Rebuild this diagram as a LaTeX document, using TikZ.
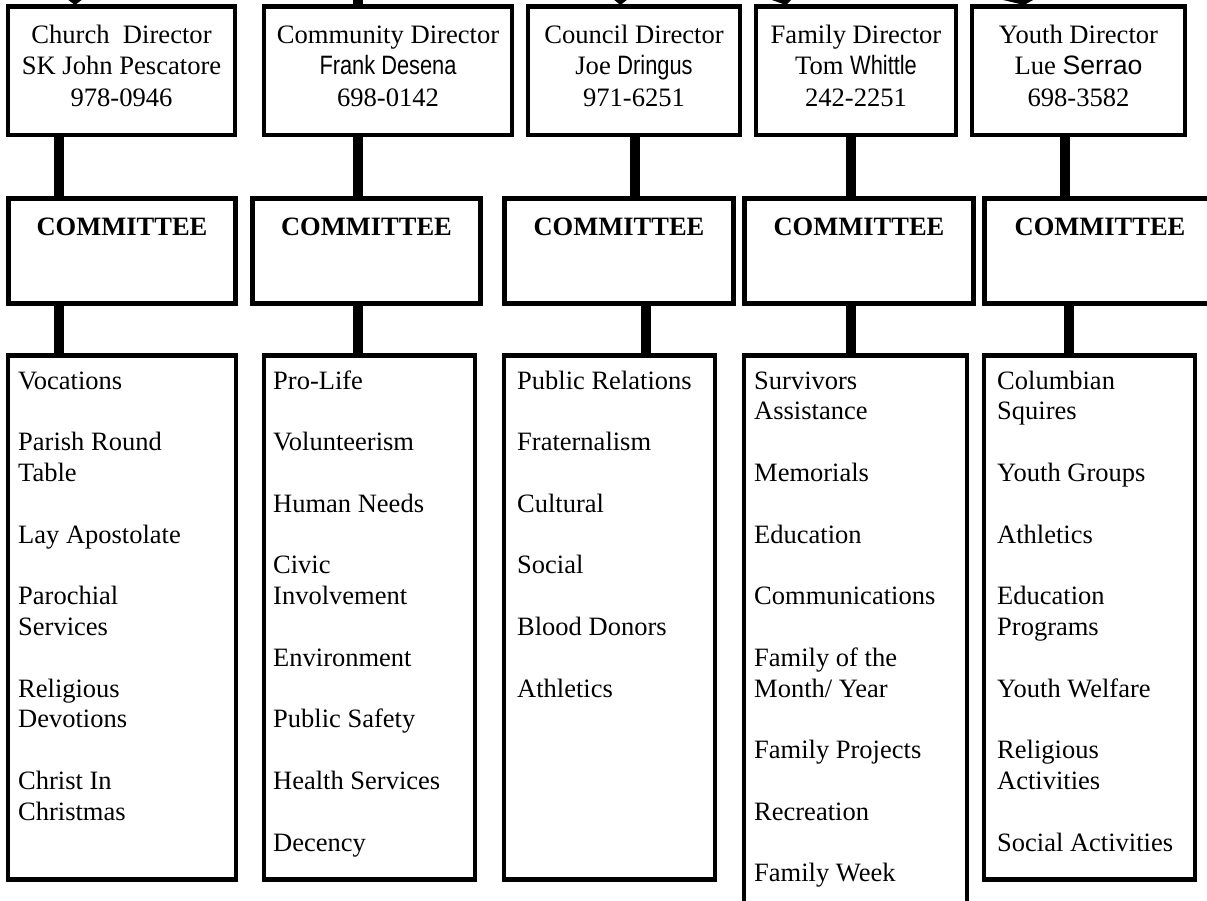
\documentclass[tikz,border=0pt]{standalone}
\usepackage{fontspec}
\setmainfont{Liberation Serif}
\newfontfamily\namesans[FakeStretch=0.82]{Liberation Sans}
\newfontfamily\namesansw{Liberation Sans}
\begin{document}
\begin{tikzpicture}[x=1pt,y=-1pt,
  bx/.style={draw, line width=4.5pt, inner sep=0pt, outer sep=0pt, anchor=north west, fill=white},
  cbx/.style={bx, line width=5pt},
  conn/.style={line width=10pt},
  dtext/.style={font=\fontsize{26.6}{31}\selectfont, anchor=base, inner sep=0pt},
  ctext/.style={font=\bfseries\fontsize{26.5}{31}\selectfont, anchor=base, inner sep=0pt},
  itext/.style={font=\fontsize{26.5}{31}\selectfont, anchor=base west, inner sep=0pt}]
\clip (0,0) rectangle (1207,901);
\fill[white] (0,0) rectangle (1207,901);

% director boxes
\node[bx, minimum width=227pt, minimum height=128.5pt] (d1) at (8,6.5) {};
\node[bx, minimum width=248pt, minimum height=128.5pt] (d2) at (264,6.5) {};
\node[bx, minimum width=212pt, minimum height=128.5pt] (d3) at (528,6.5) {};
\node[bx, minimum width=200pt, minimum height=128.5pt] (d4) at (756,6.5) {};
\node[bx, minimum width=213pt, minimum height=128.5pt] (d5) at (972,6.5) {};

% committee boxes
\node[cbx, minimum width=227pt, minimum height=105pt] (c1) at (8.5,198.5) {};
\node[cbx, minimum width=228pt, minimum height=105pt] (c2) at (252.5,198.5) {};
\node[cbx, minimum width=229pt, minimum height=105pt] (c3) at (504.5,198.5) {};
\node[cbx, minimum width=229pt, minimum height=105pt] (c4) at (744.5,198.5) {};
\node[cbx, minimum width=231pt, minimum height=105pt] (c5) at (984.5,198.5) {};

% list boxes
\node[bx, minimum width=228pt, minimum height=524pt] (l1) at (8,355.5) {};
\node[bx, minimum width=211pt, minimum height=524pt] (l2) at (264,355.5) {};
\node[bx, minimum width=211pt, minimum height=524pt] (l3) at (504,355.5) {};
\node[bx, minimum width=223pt, minimum height=570pt] (l4) at (744,355.5) {};
\node[bx, minimum width=211pt, minimum height=524pt] (l5) at (984,355.5) {};

% connector x positions
\coordinate (u1) at (59,0);   \coordinate (u2) at (358,0);
\coordinate (u3) at (635,0);  \coordinate (u4) at (851,0);
\coordinate (u5) at (1065,0);
\coordinate (w1) at (59,0);   \coordinate (w2) at (358,0);
\coordinate (w3) at (646,0);  \coordinate (w4) at (851,0);
\coordinate (w5) at (1069,0);

\foreach \i in {1,...,5}{
  \draw[conn] (d\i.south -| u\i) -- (c\i.north -| u\i);
  \draw[conn] (c\i.south -| w\i) -- (l\i.north -| w\i);
}

% incoming connectors from above (cut by the page edge)
\coordinate (top2) at (358,-20);
\draw[conn] (top2) -- (d2.north -| top2);
\coordinate (t1) at (75,5);
\fill (67,-1) -- (83,-1) -- (t1) -- cycle;
\coordinate (t3) at (620.5,5);
\fill (613,-1) -- (628,-1) -- (t3) -- cycle;
\coordinate (t4) at (786,5);
\fill (769,-1) -- (792,-1) -- (t4) -- cycle;
\coordinate (t5) at (1024,5);
\fill (999,-1) -- (1035,-1) -- (t5) -- cycle;

% director texts
\node[dtext] at (121.5,44) {Church~~Director};
\node[dtext] at (121.5,74.5) {SK John Pescatore};
\node[dtext] at (121.5,107) {978-0946};
\node[dtext] at (388,44) {Community Director};
\node[dtext] at (388,74.5) {{\namesans Frank Desena}};
\node[dtext] at (388,107) {698-0142};
\node[dtext] at (634,44) {Council Director};
\node[dtext] at (634,74.5) {Joe {\namesans Dringus}};
\node[dtext] at (634,107) {971-6251};
\node[dtext] at (856,44) {Family Director};
\node[dtext] at (856,74.5) {Tom {\namesans Whittle}};
\node[dtext] at (856,107) {242-2251};
\node[dtext] at (1078.5,44) {Youth Director};
\node[dtext] at (1078.5,74.5) {Lue {\namesansw Serrao}};
\node[dtext] at (1078.5,107) {698-3582};

% committee texts
\node[ctext] at (122,236) {COMMITTEE};
\node[ctext] at (366.5,236) {COMMITTEE};
\node[ctext] at (619,236) {COMMITTEE};
\node[ctext] at (859,236) {COMMITTEE};
\node[ctext] at (1100,236) {COMMITTEE};

% list items
\foreach \n/\t in {1/Vocations,3/Parish Round,4/Table,6/Lay Apostolate,8/Parochial,9/Services,11/Religious,12/Devotions,14/Christ In,15/Christmas}
  \node[itext] at (18,{389+30.8*(\n-1)}) {\t};
\foreach \n/\t in {1/Pro-Life,3/Volunteerism,5/Human Needs,7/Civic,8/Involvement,10/Environment,12/Public Safety,14/Health Services,16/Decency}
  \node[itext] at (273,{389+30.8*(\n-1)}) {\t};
\foreach \n/\t in {1/Public Relations,3/Fraternalism,5/Cultural,7/Social,9/Blood Donors,11/Athletics}
  \node[itext] at (517,{389+30.8*(\n-1)}) {\t};
\foreach \n/\t in {1/Survivors,2/Assistance,4/Memorials,6/Education,8/Communications,10/Family of the,11/{Month/ Year},13/Family Projects,15/Recreation,17/Family Week}
  \node[itext] at (754,{389+30.8*(\n-1)}) {\t};
\foreach \n/\t in {1/Columbian,2/Squires,4/Youth Groups,6/Athletics,8/Education,9/Programs,11/Youth Welfare,13/Religious,14/Activities,16/Social Activities}
  \node[itext] at (997,{389+30.8*(\n-1)}) {\t};
\end{tikzpicture}
\end{document}
